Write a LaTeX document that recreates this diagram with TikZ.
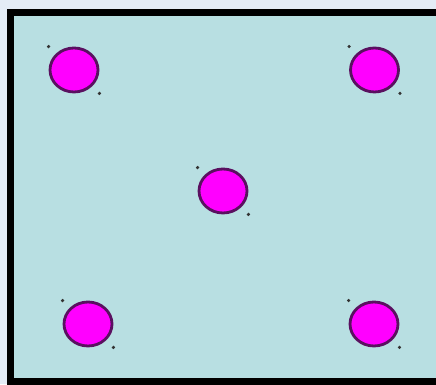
\documentclass[tikz,border=0pt]{standalone}
\usepackage{tikz}
\usetikzlibrary{shapes.geometric}

\definecolor{pagebg}{HTML}{E4ECF6}
\definecolor{panel}{HTML}{B8DFE2}
\definecolor{dotfill}{HTML}{FF00FF}
\definecolor{dotline}{HTML}{5A1060}

\begin{document}
\begin{tikzpicture}[
    spot/.style={ellipse, draw=dotline, line width=0.8pt, fill=dotfill, minimum width=0.48cm, minimum height=0.44cm, inner sep=0pt},
    handle/.style={circle, fill=black!80, inner sep=0pt, minimum size=1pt}
]

\fill [pagebg] (0,0) rectangle (4.36,3.84);
\useasboundingbox (0,0) rectangle (4.36,3.84);

\draw [fill=panel, line width=0.065cm] (0.105,0.025) rectangle (4.6,3.715);

\node (topleft) [spot] at (0.74,3.14) {};
\node (topright) [spot] at (3.745,3.14) {};
\node (middle) [spot] at (2.23,1.93) {};
\node (bottomleft) [spot] at (0.88,0.60) {};
\node (bottomright) [spot] at (3.74,0.60) {};

% selection handles
\node [handle] at (topleft.west |- topleft.north) {};
\node [handle] at (topleft.east |- topleft.south) {};
\node [handle] at (topright.west |- topright.north) {};
\node [handle] at (topright.east |- topright.south) {};
\node [handle] at (middle.west |- middle.north) {};
\node [handle] at (middle.east |- middle.south) {};
\node [handle] at (bottomleft.west |- bottomleft.north) {};
\node [handle] at (bottomleft.east |- bottomleft.south) {};
\node [handle] at (bottomright.west |- bottomright.north) {};
\node [handle] at (bottomright.east |- bottomright.south) {};

\end{tikzpicture}
\end{document}
